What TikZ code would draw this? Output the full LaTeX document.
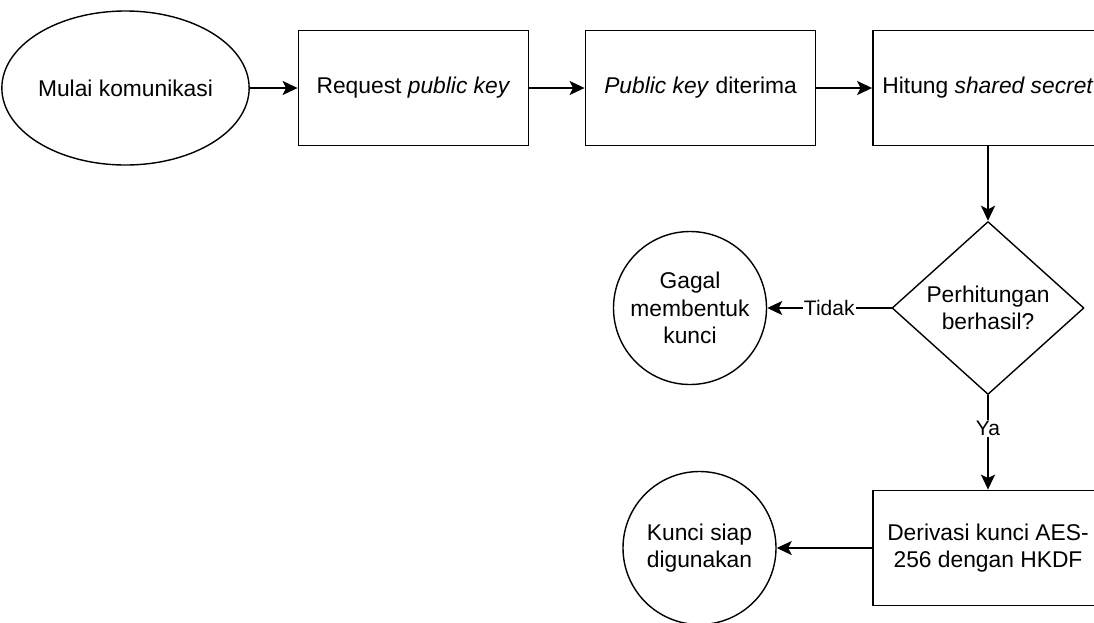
\documentclass[tikz,border=0pt]{standalone}
\usepackage{fontspec}
\setmainfont{Liberation Sans}
\usetikzlibrary{shapes.geometric,arrows.meta}
\tikzstyle{every node}=[font=\fontsize{22.8}{27.4}\selectfont,align=center]
\tikzstyle{every path}=[line width=1.8pt,line cap=round,line join=round]
\tikzstyle{proc}=[draw,rectangle,minimum width=230,minimum height=115,inner sep=0pt,line join=miter]
\tikzstyle{term}=[draw,circle,minimum size=153,inner sep=0pt,line width=1.4pt]
\tikzstyle{flow}=[line width=2pt,-{Stealth[length=15pt,width=14pt,inset=3.5pt]}]
\tikzstyle{lbl}=[fill=white,inner sep=1pt,font=\fontsize{21}{25}\selectfont]

\begin{document}
\begin{tikzpicture}[x=1pt,y=-1pt]
    % Frame of the screenshot
    \useasboundingbox (0,0) rectangle (1094,622);

    % Top row
    \node [draw,ellipse,minimum width=231,minimum height=154,inner sep=0pt,line width=1.4pt,name=start] at (125.5,88) {Mulai komunikasi};
    \node [proc,name=req] at (413.5,88) {Request \textit{public key}};
    \node [proc,name=recv] at (700.5,88) {\textit{Public key} diterima};
    \node [proc,name=calc] at (988,88) {Hitung \textit{shared secret}};

    % Decision and its outcomes
    \node [draw,diamond,minimum width=192,minimum height=173,inner sep=0pt,line width=1.4pt,name=check] at (988,308) {Perhitungan\\berhasil?};
    \node [term,name=fail] at (690,308) {Gagal\\membentuk\\kunci};
    \node [proc,name=derive] at (988,548) {Derivasi kunci AES-\\256 dengan HKDF};
    \node [term,name=ok] at (699.5,548) {Kunci siap\\digunakan};

    % Connections
    \draw [flow] (start) -- (req);
    \draw [flow] (req) -- (recv);
    \draw [flow] (recv) -- (calc);
    \draw [flow] (calc) -- (check);
    \draw [flow] (check) -- node[lbl]{Tidak} (fail);
    \draw [flow] (check) -- node[lbl,pos=0.35]{Ya} (derive);
    \draw [flow] (derive) -- (ok);
\end{tikzpicture}
\end{document}
